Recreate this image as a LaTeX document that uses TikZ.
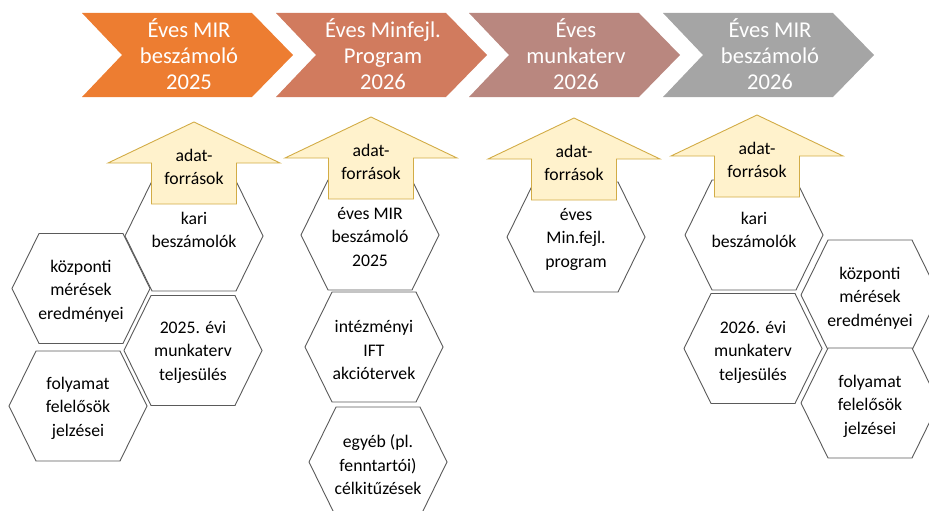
\documentclass[tikz,border=0pt]{standalone}
\usepackage{fontspec}
\setmainfont{Carlito}
\definecolor{chevA}{HTML}{ED7D31}
\definecolor{chevB}{HTML}{D17B5E}
\definecolor{chevC}{HTML}{B9877F}
\definecolor{chevD}{HTML}{A5A5A5}
\definecolor{arrowfill}{HTML}{FFF2CC}
\definecolor{arrowdraw}{HTML}{D2AC46}
\definecolor{hexgray}{HTML}{5A5A5A}
\newcommand\mkhex[5]{%
  \draw[hexline] (#1-69,#2) -- (#1-42,#2-55) -- (#1+42,#2-55) -- (#1+69,#2) -- (#1+42,#2+55) -- (#1-42,#2+55) -- cycle;
  \node[hextext] (#4) at (#1,#3) {#5};
}
\newcommand\mkarrow[3]{%
  \draw[arrowshape] (#1,#2) -- (#1+86,#2+41) -- (#1+42.5,#2+41) -- (#1+42.5,#2+82) -- (#1-42.5,#2+82) -- (#1-42.5,#2+41) -- (#1-86,#2+41) -- cycle;
  \node[arrowtext] (#3) at (#1,#2+45) {adat-\\források};
}
\newcommand\mkchev[4]{%
  \fill[#2] (#1,13) -- (#1+170,13) -- (#1+211,55) -- (#1+170,97) -- (#1,97) -- (#1+40,55) -- cycle;
  \node[chevtext] (#3) at (#1+107,54) {#4};
}
\begin{document}
\begin{tikzpicture}[x=1pt,y=-1pt,
  hexline/.style={draw=hexgray, line width=0.9pt, fill=white, line join=miter},
  hextext/.style={align=center, font=\fontsize{17.7}{23.5}\selectfont, text=black, inner sep=0pt},
  chevtext/.style={align=center, text=white, font=\fontsize{22.6}{26}\selectfont, inner sep=0pt},
  arrowshape/.style={fill=arrowfill, draw=arrowdraw, line width=0.9pt, line join=miter},
  arrowtext/.style={align=center, font=\fontsize{17.7}{22.5}\selectfont, text=black, inner sep=0pt}]
\useasboundingbox (0,0) rectangle (929,511);
\clip (0,0) rectangle (929,511);
% chevrons
\mkchev{82}{chevA}{c1}{Éves MIR\\beszámoló\\2025}
\mkchev{276}{chevB}{c2}{Éves Minfejl.\\Program\\2026}
\mkchev{469}{chevC}{c3}{Éves\\munkaterv\\2026}
\mkchev{663}{chevD}{c4}{Éves MIR\\beszámoló\\2026}
% column 1
\mkhex{194}{236}{230}{h1}{kari\\beszámolók}
\mkhex{81}{288.5}{291}{h2}{központi\\mérések\\eredményei}
\mkhex{193}{350.5}{352}{h3}{2025. évi\\munkaterv\\teljesülés}
\mkhex{78}{406}{408}{h4}{folyamat\\felelősök\\jelzései}
% column 2
\mkhex{370}{235}{237}{h5}{éves MIR\\beszámoló\\2025}
\mkhex{374}{347}{350}{h6}{intézményi\\IFT\\akciótervek}
\mkhex{378}{462}{465}{h7}{egyéb (pl.\\fenntartói)\\célkitűzések}
% column 3
\mkhex{576}{237}{239}{h8}{éves\\Min.fejl.\\program}
% column 4
\mkhex{754}{235}{230}{h9}{kari\\beszámolók}
\mkhex{870}{295}{298}{h10}{központi\\mérések\\eredményei}
\mkhex{870}{403}{406}{h11}{folyamat\\felelősök\\jelzései}
\mkhex{753}{348.5}{352}{h12}{2026. évi\\munkaterv\\teljesülés}
% arrows
\mkarrow{194}{122}{a1}
\mkarrow{371}{117}{a2}
\mkarrow{574}{118}{a3}
\mkarrow{757}{115}{a4}
\end{tikzpicture}
\end{document}
